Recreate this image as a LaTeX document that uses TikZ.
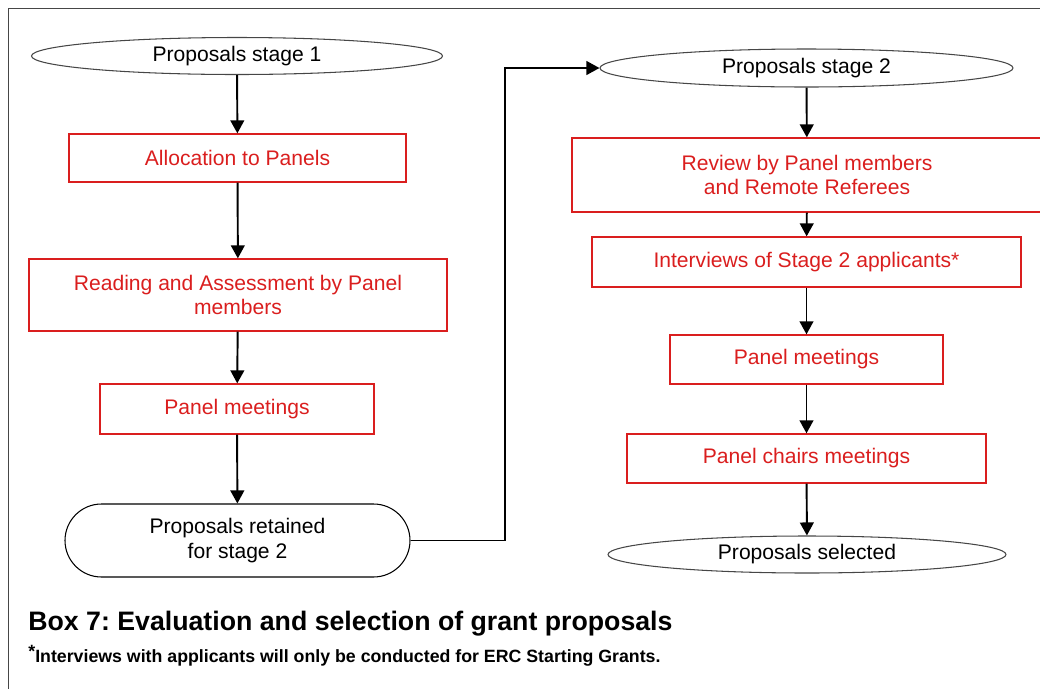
\documentclass[tikz,border=0pt]{standalone}
\usepackage{fontspec}
\setmainfont{Liberation Sans}
\usepackage{tikz}
\usetikzlibrary{arrows.meta,shapes.geometric,shapes.misc}
\definecolor{boxred}{RGB}{218,30,30}
\definecolor{framegray}{RGB}{70,70,70}
\newcommand{\boxcolor}{boxred}
\newcommand{\edgewidth}{0.75pt}
\newcommand{\arrowwidth}{1.1pt}
\frenchspacing

\begin{document}
\begin{tikzpicture}[
  font=\fontsize{12}{13.8}\selectfont,
  redbox/.style={draw=\boxcolor, text=\boxcolor, line width=\edgewidth, rectangle, inner sep=0pt, align=center},
  oval/.style={draw=framegray, line width=0.6pt, ellipse, inner sep=0pt, align=center},
  flow/.style={draw=black, line width=\arrowwidth, -{Triangle[length=7.4pt,width=7.8pt]}}]
\useasboundingbox (0,0) rectangle (20.8,-13.76);
\draw[framegray] [line width=0.9pt] (0.17,-0.17) rectangle (21.2,-14.2);
%stage 1
\node[oval] (1) at (4.74, -1.12) [minimum width=8.22cm, minimum height=0.74cm] {Proposals stage 1};
\node[redbox] (2) at (4.75, -3.16) [minimum width=6.74cm, minimum height=0.96cm] {Allocation to Panels};
\node[redbox] (3) at (4.76, -5.90) [minimum width=8.36cm, minimum height=1.44cm] {Reading and Assessment by Panel\\members};
\node[redbox] (4) at (4.74, -8.18) [minimum width=5.48cm, minimum height=1.00cm] {Panel meetings};
\node[draw=black, line width=0.6pt, rounded rectangle, inner sep=0pt, align=center] (5) at (4.75, -10.81) [minimum width=6.90cm, minimum height=1.46cm] {Proposals retained\\for stage 2};
%stage 2
\node[oval] (6) at (16.13, -1.36) [minimum width=8.26cm, minimum height=0.76cm] {Proposals stage 2};
\node[redbox] (7) at (16.14, -3.50) [minimum width=9.40cm, minimum height=1.48cm] {Review by Panel members\\and Remote Referees};
\node[redbox] (8) at (16.13, -5.24) [minimum width=8.58cm, minimum height=1.00cm] {Interviews of Stage 2 applicants*};
\node[redbox] (9) at (16.13, -7.19) [minimum width=5.46cm, minimum height=0.98cm] {Panel meetings};
\node[redbox] (10) at (16.13, -9.17) [minimum width=7.18cm, minimum height=0.98cm] {Panel chairs meetings};
\node[oval] (11) at (16.14, -11.09) [minimum width=7.96cm, minimum height=0.74cm] {Proposals selected};
\coordinate (k) at (10.10, -1.36);
%arrows
\draw[flow] (1) -- (2);
\draw[flow] (2) -- (3);
\draw[flow] (3) -- (4);
\draw[flow] (4) -- (5);
\draw[flow] (5.east) -| (k) -- (6.west);
\draw[flow] (6) -- (7);
\draw[flow] (7) -- (8);
\draw[flow] (8) -- (9);
\draw[flow] (9) -- (10);
\draw[flow] (10) -- (11);
%caption
\node[anchor=base west, inner sep=0pt, font=\fontsize{15.2}{18}\selectfont\bfseries] (cap) at (0.56, -12.60) {Box 7: Evaluation and selection of grant proposals};
\node[anchor=base west, inner sep=0pt, font=\fontsize{10.1}{12}\selectfont\bfseries] (note) at (0.56, -13.24) {\raisebox{0.45ex}{*}Interviews with applicants will only be conducted for ERC Starting Grants.};
\end{tikzpicture}
\end{document}
